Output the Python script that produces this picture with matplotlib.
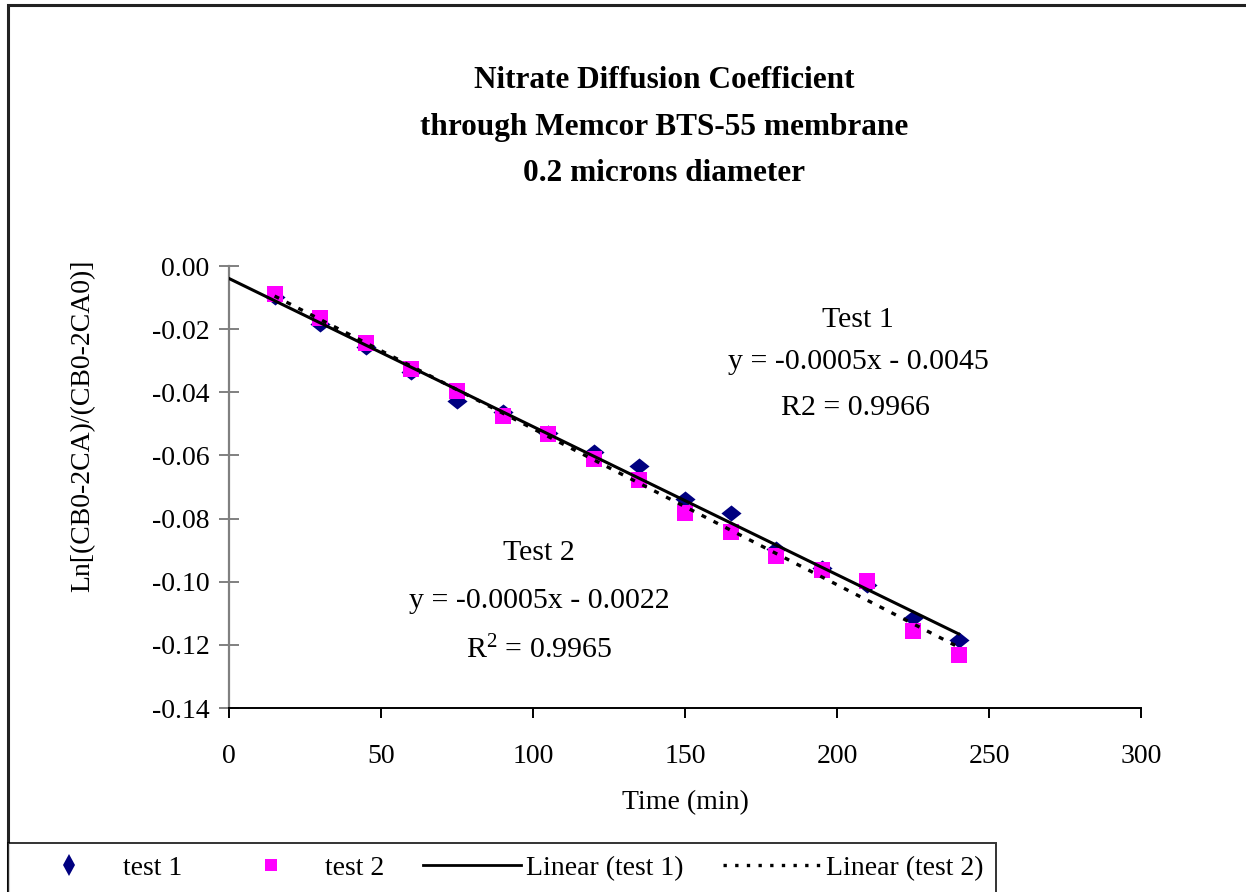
import numpy as np
import matplotlib
matplotlib.use('Agg')
from matplotlib import pyplot as plt
from matplotlib.lines import Line2D
from matplotlib.patches import Rectangle

plt.rcParams['font.family'] = ['Liberation Serif', 'DejaVu Serif']
plt.rcParams['mathtext.fontset'] = 'custom'
plt.rcParams['mathtext.rm'] = 'Liberation Serif'
plt.rcParams['mathtext.default'] = 'regular'

# sampling times (min)
time_min = [15, 30, 45, 60, 75, 90, 105, 120, 135, 150, 165, 180, 195, 210, 225, 240]

# Ln[(CB0-2CA)/(CB0-2CA0)] for each run
test1 = [-0.0098, -0.0184, -0.0257, -0.0336, -0.0428, -0.0462, -0.0530, -0.0590,
         -0.0633, -0.0737, -0.0783, -0.0895, -0.0957, -0.1010, -0.1116, -0.1186]
test2 = [-0.0089, -0.0165, -0.0244, -0.0327, -0.0396, -0.0476, -0.0533, -0.0612,
         -0.0678, -0.0783, -0.0843, -0.0920, -0.0964, -0.0999, -0.1157, -0.1233]

x = np.array(time_min, dtype=float)
y1 = np.array(test1)
y2 = np.array(test2)

# linear trend lines
m1, b1 = np.polyfit(x, y1, 1)
m2, b2 = np.polyfit(x, y2, 1)
fit1_x = np.array([0, 240])
fit2_x = np.array([15, 240])

# flattened diamond like the spreadsheet marker
diamond = [(-1, 0), (0, 0.8), (1, 0), (0, -0.8), (-1, 0)]

fig = plt.figure(figsize=(12.46, 8.92), dpi=100)
ax = fig.add_axes([229 / 1246, 1 - 708 / 892, 912 / 1246, 442 / 892])

ax.plot(x, y1, linestyle='none', marker=diamond, markersize=14.5,
        color='#000080', markeredgewidth=0, zorder=3)
ax.plot(x, y2, linestyle='none', marker='s', markersize=12,
        color='#FF00FF', markeredgewidth=0, zorder=4)
ax.plot(fit1_x, m1 * fit1_x + b1, color='black', linewidth=2.2, zorder=5)
ax.plot(fit2_x, m2 * fit2_x + b2, color='black', linewidth=2.4,
        linestyle=(0, (1.5, 2.5)), zorder=5)

ax.set_xlim(0, 300)
ax.set_ylim(-0.14, 0.0)
ax.set_xticks(np.arange(0, 301, 50))
yt = np.arange(-0.14, 0.001, 0.02)
ax.set_yticks(yt)
ax.set_yticklabels(['%.2f' % v if abs(v) > 1e-9 else '0.00' for v in yt])

for s in ['top', 'right']:
    ax.spines[s].set_visible(False)
ax.spines['left'].set_color('#808080')
ax.spines['left'].set_linewidth(1.6)
ax.spines['bottom'].set_color('black')
ax.spines['bottom'].set_linewidth(1.4)
ax.tick_params(axis='y', direction='inout', length=14, width=1.4, color='#808080',
               labelsize=20, pad=7)
ax.tick_params(axis='x', direction='out', length=7, width=1.4, color='black',
               labelsize=20, pad=19)

ax.set_xlabel('Time (min)', fontsize=20, labelpad=15)
ax.set_ylabel('Ln[(CB0-2CA)/(CB0-2CA0)]', fontsize=20)
ax.yaxis.set_label_coords(-0.147, 0.638)

# trend line equations
eq_kw = dict(fontsize=21.5, ha='center', va='center')
ax.text(207, -0.0171, 'Test 1', **eq_kw)
ax.text(207, -0.0304, 'y = -0.0005x - 0.0045', **eq_kw)
ax.text(206, -0.0450, 'R2 = 0.9966', **eq_kw)
ax.text(102, -0.0910, 'Test 2', **eq_kw)
ax.text(102, -0.1060, 'y = -0.0005x - 0.0022', **eq_kw)
ax.text(102, -0.1215, 'R$^{2}$ = 0.9965', **eq_kw)

fig.text(664 / 1246, 1 - 127 / 892,
         'Nitrate Diffusion Coefficient\nthrough Memcor BTS-55 membrane\n0.2 microns diameter',
         fontsize=22.5, fontweight='bold', ha='center', va='center', linespacing=1.8)

# chart frame
fig.add_artist(Rectangle((8 / 1246, -0.1), 1.2, 1.1 - 5 / 892, transform=fig.transFigure,
                         fill=False, edgecolor='#222222', linewidth=2.2))

handles = [
    Line2D([], [], linestyle='none', marker='d', markersize=11, color='#000080',
           markeredgewidth=0),
    Line2D([], [], linestyle='none', marker='s', markersize=8, color='#FF00FF',
           markeredgewidth=0),
    Line2D([], [], color='black', linewidth=2),
    Line2D([], [], color='black', linewidth=2.4, linestyle=(0, (1, 2.5))),
]
labels = ['test 1', 'test 2', 'Linear (test 1)', 'Linear (test 2)']
leg = fig.legend(handles, labels, loc='upper left', ncol=4, mode='expand',
                 bbox_to_anchor=(8 / 1246, -0.1, 988 / 1246, 1.1 - 843 / 892),
                 fontsize=20, frameon=True, fancybox=False, edgecolor='black',
                 handlelength=3.5, handletextpad=0.2, columnspacing=1.0,
                 borderpad=0.45, borderaxespad=0)
leg.get_frame().set_linewidth(1.4)

fig.savefig('out.png', dpi=100)
